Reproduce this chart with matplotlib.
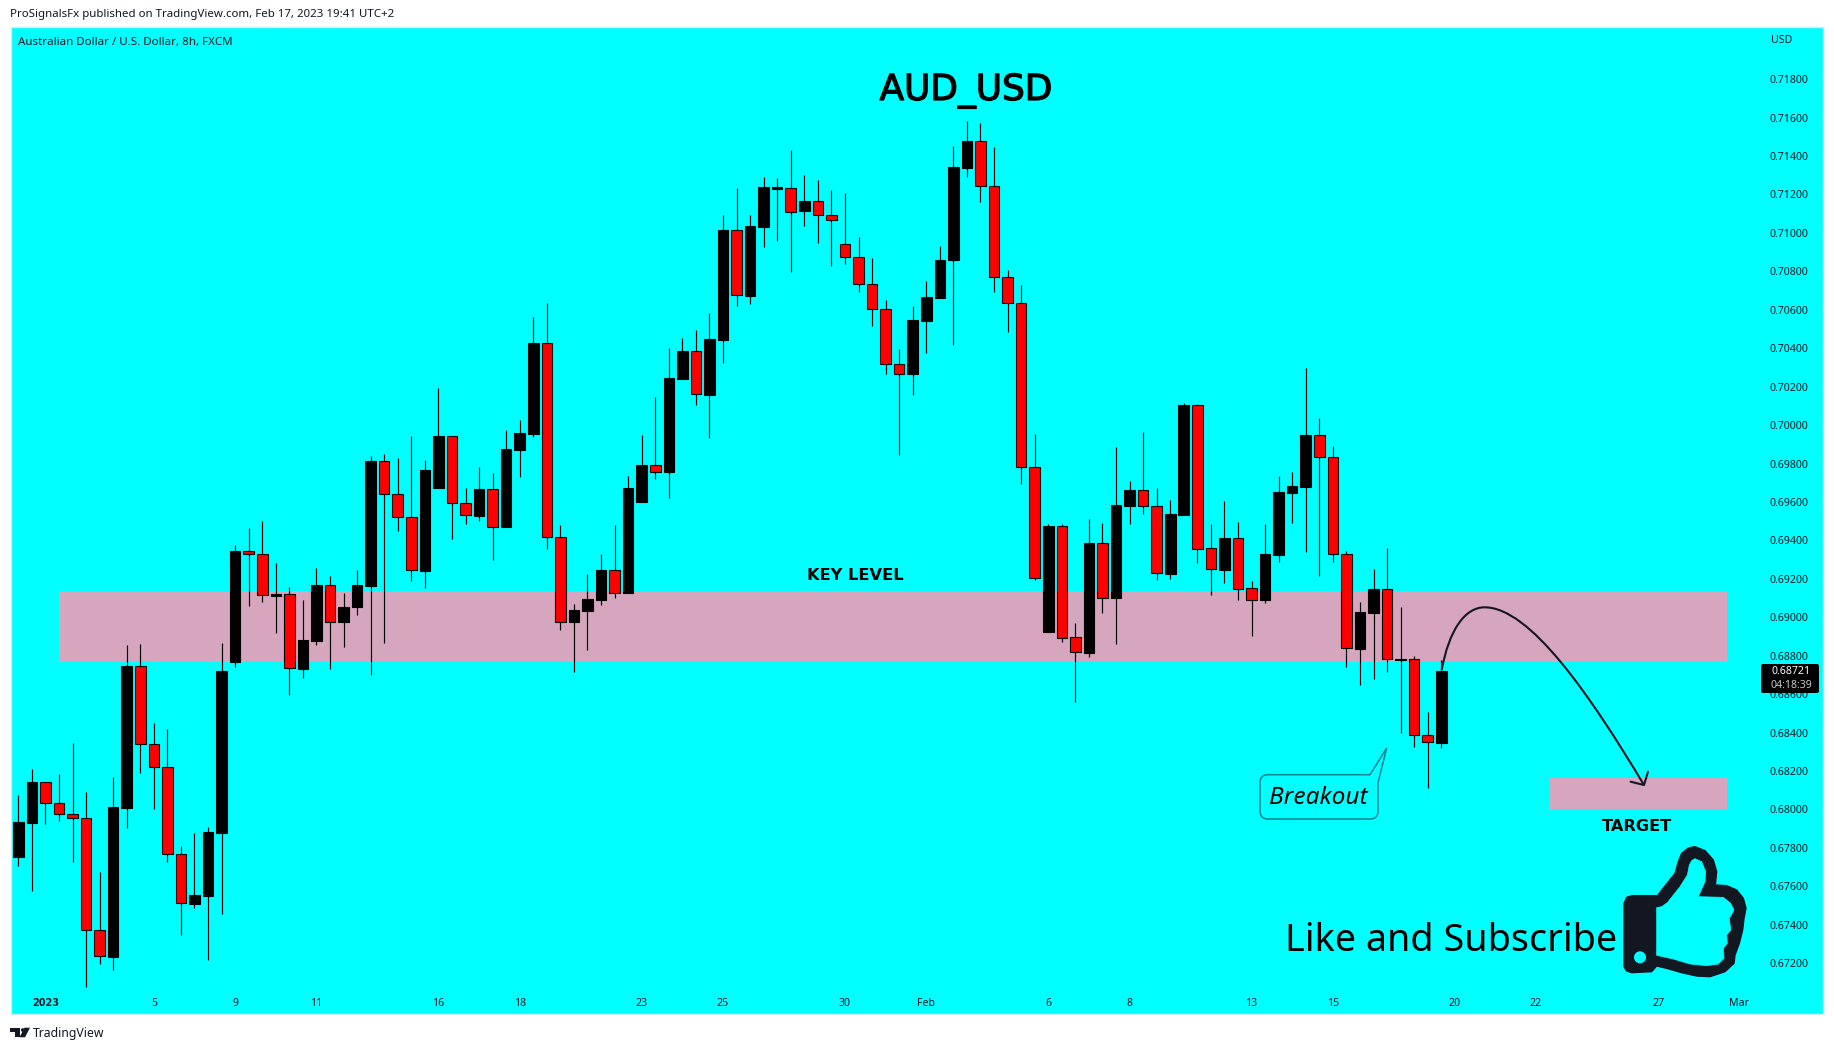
import numpy as np
import matplotlib
matplotlib.use("Agg")
import matplotlib.pyplot as plt
import matplotlib.patheffects as pe
from matplotlib.path import Path
from matplotlib.patches import PathPatch, Polygon, Circle, FancyBboxPatch

plt.rcParams['font.family'] = ['Noto Sans', 'DejaVu Sans']

########
# DATA #
########

opens = [0.67754, 0.67931, 0.68141, 0.68032, 0.67975, 0.67954, 0.67371, 0.67234, 0.68009, 0.68745,
         0.68339, 0.68219, 0.67766, 0.67510, 0.67551, 0.67879, 0.68769, 0.69343, 0.69327, 0.69112,
         0.69119, 0.68732, 0.68878, 0.69166, 0.68973, 0.69051, 0.69164, 0.69811, 0.69640, 0.69524,
         0.69242, 0.69675, 0.69941, 0.69593, 0.69528, 0.69666, 0.69471, 0.69872, 0.69956, 0.70426,
         0.69420, 0.68973, 0.69034, 0.69092, 0.69244, 0.69129, 0.69601, 0.69790, 0.69757, 0.70242,
         0.70383, 0.70158, 0.70444, 0.71013, 0.70673, 0.71031, 0.71230, 0.71232, 0.71112, 0.71165,
         0.71091, 0.70941, 0.70873, 0.70733, 0.70602, 0.70318, 0.70264, 0.70544, 0.70663, 0.70857,
         0.71340, 0.71476, 0.71244, 0.70768, 0.70635, 0.69781, 0.68921, 0.69474, 0.68896, 0.68816,
         0.69386, 0.69098, 0.69581, 0.69661, 0.69577, 0.69227, 0.69534, 0.70104, 0.69359, 0.69248,
         0.69411, 0.69151, 0.69092, 0.69326, 0.69649, 0.69680, 0.69947, 0.69833, 0.69328, 0.68837,
         0.69024, 0.69146, 0.68780, 0.68782, 0.68386, 0.68348]
closes = [0.67935, 0.68141, 0.68032, 0.67975, 0.67954, 0.67371, 0.67236, 0.68013, 0.68746, 0.68339,
          0.68219, 0.67766, 0.67512, 0.67553, 0.67883, 0.68720, 0.69345, 0.69327, 0.69114, 0.69119,
          0.68734, 0.68882, 0.69168, 0.68973, 0.69052, 0.69168, 0.69812, 0.69640, 0.69524, 0.69244,
          0.69766, 0.69943, 0.69593, 0.69530, 0.69668, 0.69472, 0.69876, 0.69959, 0.70428, 0.69420,
          0.68974, 0.69038, 0.69095, 0.69246, 0.69129, 0.69673, 0.69792, 0.69757, 0.70245, 0.70385,
          0.70160, 0.70448, 0.71015, 0.70675, 0.71035, 0.71238, 0.71238, 0.71111, 0.71167, 0.71091,
          0.71067, 0.70873, 0.70733, 0.70602, 0.70318, 0.70264, 0.70548, 0.70667, 0.70859, 0.71344,
          0.71478, 0.71244, 0.70768, 0.70633, 0.69781, 0.69203, 0.69476, 0.68894, 0.68818, 0.69388,
          0.69100, 0.69585, 0.69664, 0.69577, 0.69229, 0.69538, 0.70106, 0.69357, 0.69250, 0.69413,
          0.69145, 0.69092, 0.69330, 0.69652, 0.69683, 0.69949, 0.69833, 0.69328, 0.68839, 0.69028,
          0.69148, 0.68782, 0.68783, 0.68386, 0.68350, 0.68721]
highs = [0.68075, 0.68210, 0.68141, 0.68184, 0.68346, 0.68091, 0.67675, 0.68169, 0.68856, 0.68861,
         0.68450, 0.68419, 0.67810, 0.67877, 0.67909, 0.68866, 0.69376, 0.69464, 0.69501, 0.69282,
         0.69156, 0.69090, 0.69256, 0.69215, 0.69127, 0.69246, 0.69839, 0.69848, 0.69829, 0.69943,
         0.69818, 0.70193, 0.69941, 0.69673, 0.69781, 0.69751, 0.69974, 0.70026, 0.70561, 0.70636,
         0.69480, 0.69069, 0.69225, 0.69329, 0.69480, 0.69734, 0.69948, 0.70145, 0.70402, 0.70454,
         0.70494, 0.70584, 0.71093, 0.71234, 0.71093, 0.71290, 0.71286, 0.71431, 0.71301, 0.71276,
         0.71223, 0.71209, 0.70980, 0.70869, 0.70651, 0.70396, 0.70620, 0.70750, 0.70933, 0.71453,
         0.71583, 0.71573, 0.71447, 0.70807, 0.70729, 0.69954, 0.69487, 0.69487, 0.68970, 0.69511,
         0.69491, 0.69886, 0.69709, 0.69964, 0.69674, 0.69610, 0.70114, 0.70110, 0.69487, 0.69606,
         0.69497, 0.69189, 0.69486, 0.69735, 0.69756, 0.70297, 0.70037, 0.69891, 0.69345, 0.69080,
         0.69252, 0.69361, 0.69054, 0.68799, 0.68508, 0.68778]
lows = [0.67708, 0.67577, 0.67926, 0.67942, 0.67728, 0.67078, 0.67198, 0.67166, 0.67905, 0.68191,
        0.68004, 0.67728, 0.67349, 0.67489, 0.67218, 0.67458, 0.68743, 0.69060, 0.69081, 0.68920,
        0.68597, 0.68686, 0.68857, 0.68732, 0.68843, 0.69013, 0.68701, 0.68868, 0.69450, 0.69190,
        0.69155, 0.69675, 0.69409, 0.69487, 0.69502, 0.69300, 0.69471, 0.69731, 0.69939, 0.69357,
        0.68935, 0.68716, 0.68831, 0.69066, 0.69103, 0.69129, 0.69601, 0.69721, 0.69623, 0.70242,
        0.70106, 0.69935, 0.70325, 0.70621, 0.70632, 0.70927, 0.70959, 0.70797, 0.71034, 0.70949,
        0.70830, 0.70840, 0.70690, 0.70517, 0.70264, 0.69842, 0.70159, 0.70373, 0.70659, 0.70419,
        0.71289, 0.71163, 0.70690, 0.70486, 0.69696, 0.69192, 0.68921, 0.68869, 0.68557, 0.68795,
        0.69020, 0.68859, 0.69483, 0.69540, 0.69192, 0.69197, 0.69530, 0.69281, 0.69114, 0.69176,
        0.69092, 0.68905, 0.69076, 0.69290, 0.69493, 0.69342, 0.69217, 0.69290, 0.68743, 0.68650,
        0.68681, 0.68717, 0.68400, 0.68327, 0.68114, 0.68322]

price_ticks = [0.672, 0.674, 0.676, 0.678, 0.680, 0.682, 0.684, 0.686, 0.688, 0.690, 0.692, 0.694,
               0.696, 0.698, 0.700, 0.702, 0.704, 0.706, 0.708, 0.710, 0.712, 0.714, 0.716, 0.718]
date_ticks = [2, 10, 16, 22, 31, 37, 46, 52, 61, 67, 76, 82, 91, 97, 106, 112, 121, 127]
date_labels = ['2023', '5', '9', '11', '16', '18', '23', '25', '30', 'Feb', '6', '8', '13', '15',
               '20', '22', '27', 'Mar']

key_level = (0.68769, 0.69137)
key_level_bars = (3.03, 126.09)
target = (0.68005, 0.68162)
target_bars = (112.95, 126.09)

##########
# FIGURE #
##########

W, H = 1834, 1050
fig = plt.figure(figsize=(W / 100, H / 100), dpi=100, facecolor='white')

# chart area in pixels
left, right, top, bottom = 10.5, 1823, 27, 1014
ax = fig.add_axes([left / W, 1 - bottom / H, (right - left) / W, (bottom - top) / H])
ax.set_facecolor('#00FFFF')

bar_px = 13.552
first_bar_px = 18.3
ax.set_xlim((left - first_bar_px) / bar_px, (right - first_bar_px) / bar_px)
px_per_price = 19220
ax.set_ylim(0.69 + (617.3 - bottom) / px_per_price, 0.69 + (617.3 - top) / px_per_price)

# zones under the candles
ax.fill_between(key_level_bars, key_level[0], key_level[1], color='#D5A6BD', lw=0, zorder=1)
ax.fill_between(target_bars, target[0], target[1], color='#D5A6BD', lw=0, zorder=1)

# candles
x = np.arange(len(opens))
o, c = np.array(opens), np.array(closes)
colors = ['black' if cl >= op else '#FF0000' for op, cl in zip(o, c)]
ax.vlines(x, lows, highs, color='black', lw=0.85, zorder=2)
ax.bar(x, np.abs(c - o), bottom=np.minimum(o, c), width=0.78, color=colors,
       edgecolor='black', linewidth=0.8, zorder=3)

# axes labels sit inside the chart
ax.set_yticks(price_ticks)
ax.set_yticklabels(['%.5f' % p for p in price_ticks])
ax.yaxis.tick_right()
ax.tick_params(axis='y', length=0, pad=-38.6, labelsize=7.6, labelcolor='#131722')
ax.set_xticks(date_ticks)
ax.set_xticklabels(date_labels)
ax.tick_params(axis='x', length=0, pad=-11.6, labelsize=7.6, labelcolor='#131722')
ax.get_xticklabels()[0].set_family('DejaVu Sans')
ax.get_xticklabels()[0].set_fontweight('bold')
ax.get_xticklabels()[0].set_fontsize(7)
ax.set_axisbelow(True)
for s in ax.spines.values():
    s.set_color('#CDEFF3')
    s.set_linewidth(1)

###############
# OVERLAY PX  #
###############

ov = fig.add_axes([0, 0, 1, 1])
ov.set_xlim(0, W)
ov.set_ylim(H, 0)
ov.axis('off')
ov.patch.set_alpha(0)

ov.text(10, 15, 'ProSignalsFx published on TradingView.com, Feb 17, 2023 19:41 UTC+2',
        fontsize=8.25, color='#131722', va='center')
ov.text(18.3, 42, 'Australian Dollar / U.S. Dollar, 8h, FXCM', fontsize=8.3, color='#131722', va='center')
ov.text(1770.5, 40.7, 'USD', fontsize=7.6, color='#131722', va='center')
title = ov.text(966, 100, 'AUD_USD', fontsize=25.8, family='DejaVu Sans', color='black', ha='center', va='baseline')
title.set_path_effects([pe.withStroke(linewidth=0.9, foreground='black')])
ov.text(855.5, 580, 'KEY LEVEL', fontsize=11.7, family='DejaVu Sans', fontweight='bold', color='black',
        ha='center', va='baseline')
ov.text(1637, 831, 'TARGET', fontsize=11.6, family='DejaVu Sans', fontweight='bold', color='black',
        ha='center', va='baseline')
ov.text(1451, 951, 'Like and Subscribe', fontsize=27.2, color='black', ha='center', va='baseline')

# price tag
ov.add_patch(FancyBboxPatch((1761, 664), 58, 29, boxstyle='round,pad=0,rounding_size=2',
                            fc='black', ec='none', zorder=5))
ov.text(1791, 671.7, '0.68721', color='white', fontsize=7.6, ha='center', va='center', zorder=6)
ov.text(1791, 685.7, '04:18:39', color='#C8C8C8', fontsize=7.6, ha='center', va='center', zorder=6)

# breakout callout
r = 8
bx0, bx1, by0, by1 = 1260, 1378, 774.7, 819
verts = [(bx0 + r, by0), (1370, by0), (1386.7, 748), (bx1, 782.7), (bx1, by1 - r), (bx1, by1), (bx1 - r, by1),
         (bx0 + r, by1), (bx0, by1), (bx0, by1 - r), (bx0, by0 + r), (bx0, by0), (bx0 + r, by0)]
codes = [Path.MOVETO, Path.LINETO, Path.LINETO, Path.LINETO, Path.LINETO, Path.CURVE3, Path.CURVE3,
         Path.LINETO, Path.CURVE3, Path.CURVE3, Path.LINETO, Path.CURVE3, Path.CURVE3]
ov.add_patch(PathPatch(Path(verts, codes), fc='none', ec='#00838F', lw=1.1))
ov.text(1318, 804, 'Breakout', fontsize=17.6, style='italic', color='black', ha='center', va='baseline')

# projected move
curve = Path([(1441.7, 670), (1449, 630), (1465, 607.3), (1484.6, 607.3),
              (1530, 607.3), (1590, 695), (1644, 785)],
             [Path.MOVETO] + [Path.CURVE4] * 6)
ov.add_patch(PathPatch(curve, fc='none', ec='#131722', lw=1.5))
ov.plot([1648, 1644, 1630.6], [771.7, 785, 781.7], color='#131722', lw=1.5, solid_capstyle='round')

# thumb
thumb_outer = [(42, 190), (50, 172), (65, 167), (142, 167), (195, 100), (205, 65), (215, 40), (235, 24),
               (255, 20), (285, 32), (310, 60), (320, 95), (316, 135), (350, 137), (380, 150), (400, 175),
               (408, 205), (402, 235), (398, 270), (388, 310), (375, 345), (372, 370), (345, 395), (300, 410),
               (260, 408), (215, 398), (170, 385), (140, 378), (125, 395), (65, 398), (50, 393), (42, 380)]
thumb_inner = [(140, 203), (155, 200), (172, 188), (210, 140), (232, 105), (238, 75), (245, 62), (255, 56),
               (275, 65), (287, 95), (285, 125), (265, 170), (340, 172), (362, 190), (372, 210), (358, 235),
               (362, 270), (350, 285), (352, 310), (340, 325), (342, 355), (325, 372), (290, 377), (240, 372),
               (190, 357), (140, 346)]


def thumb_px(pts):
    return [(1610 + a / 3, 840 + b / 3) for a, b in pts]


ov.add_patch(Polygon(thumb_px(thumb_outer), fc='#131722', ec='#131722', lw=1, joinstyle='round'))
ov.add_patch(Polygon(thumb_px(thumb_inner), fc='#00FFFF', ec='#00FFFF', lw=0.5, joinstyle='round'))
ov.add_patch(Circle((1610 + 90 / 3, 840 + 352 / 3), 6, fc='#00FFFF', ec='none'))

# footer logo and name
ov.add_patch(Polygon([(10, 1027.7), (20, 1027.7), (20, 1037.3), (15, 1037.3), (15, 1031.7), (10, 1031.7)],
                     fc='#131722', ec='none'))
ov.add_patch(Circle((22.7, 1030), 1.8, fc='#131722', ec='none'))
ov.add_patch(Polygon([(24.5, 1027.7), (30, 1027.7), (25, 1037.3), (19.5, 1037.3)], fc='#131722', ec='none'))
ov.text(33.3, 1033, 'TradingView', fontsize=8.8, color='#131722', va='center')

fig.savefig('out.png', dpi=100)
